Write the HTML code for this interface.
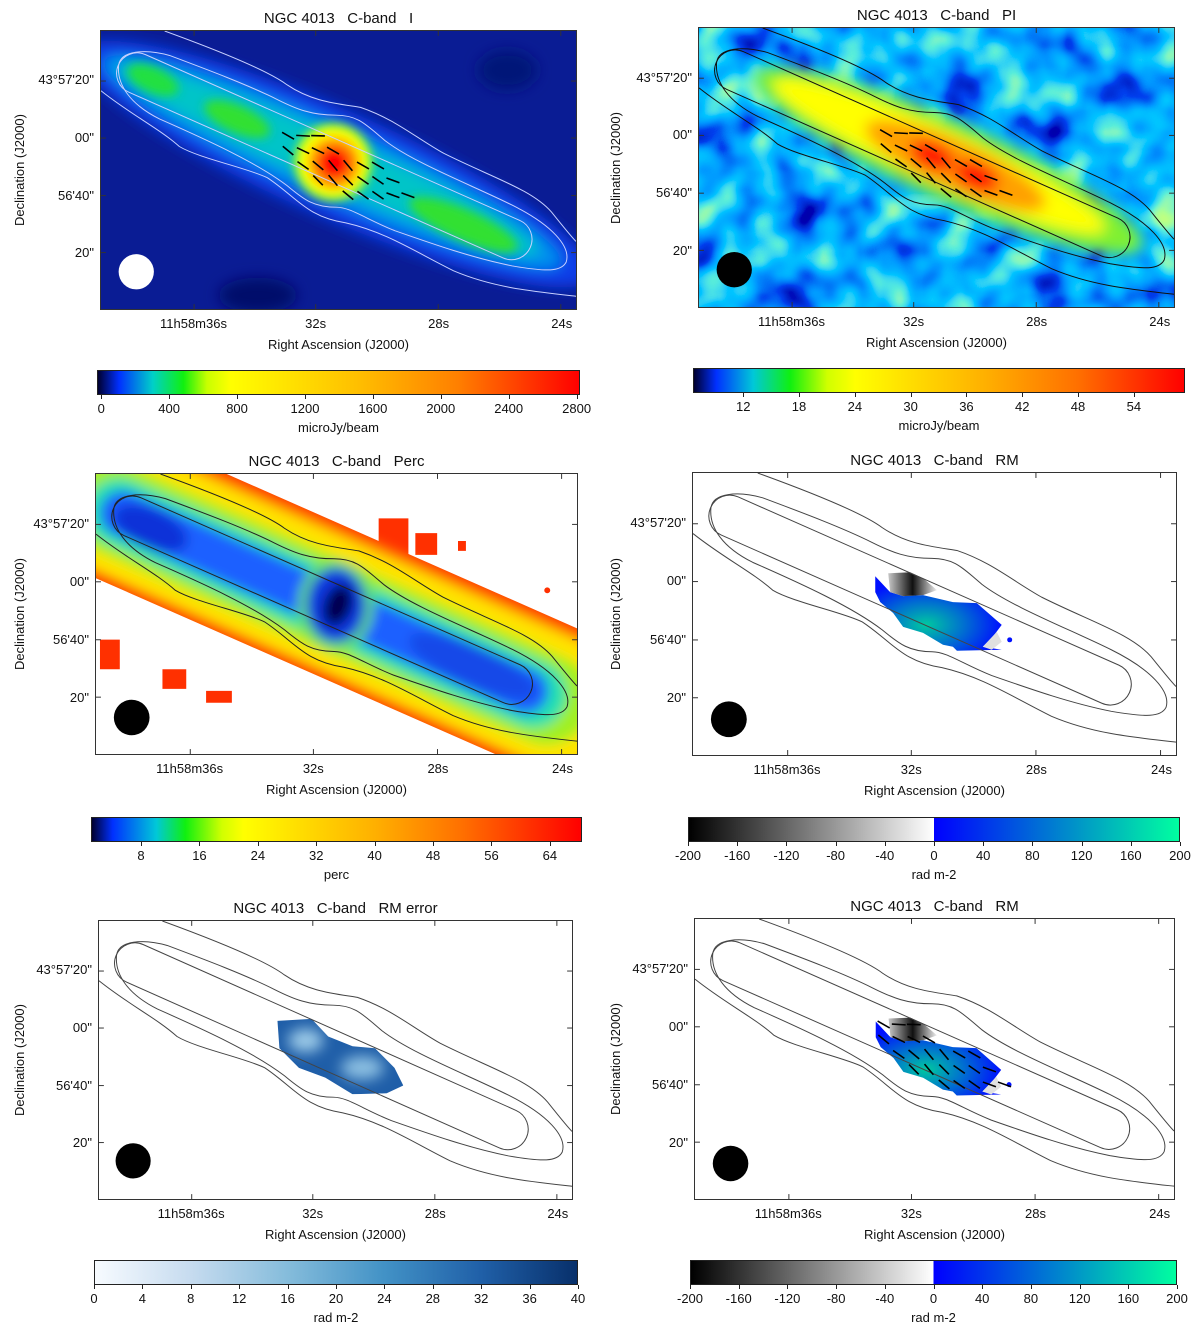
<!DOCTYPE html>
<html><head><meta charset="utf-8">
<style>
body{margin:0;background:#fff;width:1200px;height:1333px;position:relative;overflow:hidden;font-family:"Liberation Sans",Arial,sans-serif;color:#111}
.t{position:absolute;white-space:nowrap;font-size:13px;line-height:14px}
.ttl{position:absolute;white-space:pre;font-size:15px;line-height:16px;transform:translateX(-50%)}
.frame{position:absolute;border:1px solid #333;box-sizing:border-box;overflow:hidden}
.cb{position:absolute;border:1px solid #222;box-sizing:border-box}
svg{display:block}
</style></head><body>
<script>
// ---------- data arrays ----------
const yTickLabels = ["43°57'20\"", "00\"", "56'40\"", "20\""];
const xTickLabels = ["11h58m36s", "32s", "28s", "24s"];
const xTickFrac = [0.196, 0.452, 0.71, 0.968];
const yTickFrac = [0.18, 0.385, 0.592, 0.797];
// polarization vectors: grid column, grid row, angle (deg, below horizontal)
const vecCol = [0,1,2, 0,1,2,3, 1,2,3,4,5,6, 2,3,4,5,6,7, 4,5,6,7,8];
const vecRow = [0,0,0, 1,1,1,1, 2,2,2,2,2,2, 3,3,3,3,3,3, 4,4,4,4,4];
const vecAng = [30,3,2, 40,25,25,30, 35,40,50,50,30,30, 45,50,45,35,35,20, 40,35,35,20,20];
// colorbar ticks
const cb1Ticks = [0,400,800,1200,1600,2000,2400,2800];
const cb2Ticks = [12,18,24,30,36,42,48,54];
const cb3Ticks = [8,16,24,32,40,48,56,64];
const cbRMTicks = [-200,-160,-120,-80,-40,0,40,80,120,160,200];
const cb5Ticks = [0,4,8,12,16,20,24,28,32,36,40];

const panels = [
 {x:100,y:30,w:477,h:280,title:"NGC 4013   C-band   I",kind:"I"},
 {x:698,y:27,w:477,h:281,title:"NGC 4013   C-band   PI",kind:"PI"},
 {x:95,y:473,w:483,h:282,title:"NGC 4013   C-band   Perc",kind:"Perc"},
 {x:692,y:472,w:485,h:284,title:"NGC 4013   C-band   RM",kind:"RM"},
 {x:98,y:920,w:475,h:280,title:"NGC 4013   C-band   RM error",kind:"RMerr"},
 {x:694,y:918,w:481,h:282,title:"NGC 4013   C-band   RM",kind:"RMv"}
];
const cbars = [
 {x:97,y:370,w:483,h:25,min:-25,max:2820,ticks:cb1Ticks,label:"microJy/beam",
  stops:[[-25,"#000030"],[100,"#0030ff"],[300,"#00d0c8"],[480,"#10f010"],[620,"#c8ff00"],[760,"#ffff00"],[1500,"#ffc000"],[2100,"#ff8000"],[2820,"#ff0000"]]},
 {x:693,y:368,w:492,h:25,min:6.6,max:59.5,ticks:cb2Ticks,label:"microJy/beam",
  stops:[[6.6,"#000030"],[9,"#0030ff"],[13,"#00c8d8"],[17,"#10f010"],[21,"#d0ff00"],[24,"#ffff00"],[38,"#ffb000"],[48,"#ff7000"],[59.5,"#ff0000"]]},
 {x:91,y:817,w:491,h:25,min:1.15,max:68.4,ticks:cb3Ticks,label:"perc",
  stops:[[1.15,"#000030"],[4,"#0030ff"],[10,"#00c8d8"],[14,"#10f010"],[19,"#d0ff00"],[22,"#ffff00"],[40,"#ffb000"],[52,"#ff7000"],[68.4,"#ff0000"]]},
 {x:688,y:817,w:492,h:25,min:-200,max:200,ticks:cbRMTicks,label:"rad m-2",
  stops:[[-200,"#000000"],[-0.01,"#ffffff"],[0,"#0000ff"],[200,"#00ffa0"]]},
 {x:94,y:1260,w:484,h:25,min:0,max:40,ticks:cb5Ticks,label:"rad m-2",
  stops:[[0,"#f7fbff"],[8,"#c6dbef"],[16,"#85bcdb"],[24,"#4292c6"],[32,"#2060a8"],[40,"#08306b"]]},
 {x:690,y:1260,w:487,h:25,min:-200,max:200,ticks:cbRMTicks,label:"rad m-2",
  stops:[[-200,"#000000"],[-0.01,"#ffffff"],[0,"#0000ff"],[200,"#00ffa0"]]}
];
</script>
<script>
const VW=485, VH=284, ANG=23.9;
function txt(cls,s,x,y,extra){const d=document.createElement('div');d.className=cls;d.textContent=s;d.style.left=x+'px';d.style.top=y+'px';if(extra)d.style.cssText+=extra;document.body.appendChild(d);return d;}
function rot(cx,cy){return `rotate(${ANG} ${cx} ${cy})`;}
function stad(cx,cy,w,h,fill){return `<rect x="${cx-w/2}" y="${cy-h/2}" width="${w}" height="${h}" rx="${h/2}" fill="${fill}" transform="${rot(cx,cy)}"/>`;}
function ell(cx,cy,rx,ry,fill){return `<ellipse cx="${cx}" cy="${cy}" rx="${rx}" ry="${ry}" fill="${fill}" transform="${rot(cx,cy)}"/>`;}
function contours(col){
  return `<g fill="none" stroke="${col}" stroke-width="1">
   <rect x="${228-230}" y="${128-21}" width="460" height="42" rx="21" transform="${rot(228,128)}"/>
   <path d="M18,35 C20,20 45,18 70,25 C110,40 150,55 180,70 C200,80 215,86 240,86 C262,86 270,95 290,112 C320,135 380,158 420,178 C460,198 480,220 475,236 C470,246 455,246 420,240 C380,232 340,218 300,204 C270,192 255,180 240,180 C215,180 205,170 190,158 C160,135 110,112 60,90 C30,75 16,55 18,35 Z"/>
   <path d="M65,0 C120,20 170,40 190,55 C215,72 240,74 265,78 C300,90 320,108 350,125 C400,150 440,162 460,185 C472,200 480,210 485,215"/>
   <path d="M0,61 C30,85 60,100 80,118 C100,130 150,140 170,150 C200,170 210,190 250,196 C290,205 320,225 360,245 C400,262 440,266 485,271"/>
  </g>`;
}
function vectors(){
  let s='<g stroke="#000" stroke-width="1.6">';
  for(let i=0;i<vecCol.length;i++){
    const x=191+vecCol[i]*15.3, y=107+vecRow[i]*15.2, a=vecAng[i]*Math.PI/180, L=7;
    s+=`<line x1="${(x-L*Math.cos(a)).toFixed(1)}" y1="${(y-L*Math.sin(a)).toFixed(1)}" x2="${(x+L*Math.cos(a)).toFixed(1)}" y2="${(y+L*Math.sin(a)).toFixed(1)}"/>`;
  }
  return s+'</g>';
}
const rmPoly="183,104 198,120 211,124 231,123 261,130 285,131 301,145 310,153 301,165 291,175 310,178 265,179 261,175 251,173 231,161 211,155 201,141 188,130 183,120";
const rmBlack="196,101 218,100 231,106 245,118 231,123 211,124 198,120";
function rmPatch(id){
  return `<defs><radialGradient id="rg${id}" cx="0.4" cy="0.65" r="0.6"><stop offset="0" stop-color="#00c8a0"/><stop offset="0.5" stop-color="#0070d0"/><stop offset="1" stop-color="#0010ff"/></radialGradient>
  <linearGradient id="lg${id}" x1="0" x2="1"><stop offset="0" stop-color="#c8c8c8"/><stop offset="0.5" stop-color="#101010"/><stop offset="1" stop-color="#f0f0f0"/></linearGradient></defs>
  <polygon points="${rmPoly}" fill="url(#rg${id})"/><polygon points="${rmBlack}" fill="url(#lg${id})"/>
  <polygon points="291,175 305,160 310,170 300,178" fill="#e0e0e0"/><circle cx="318" cy="168" r="2.5" fill="#0010ff"/>`;
}
function content(k,i){
  let s='';
  if(k==="I"){
    s+=`<defs><filter id="b1" x="-50%" y="-50%" width="200%" height="200%"><feGaussianBlur stdDeviation="7"/></filter><filter id="b2" x="-50%" y="-50%" width="200%" height="200%"><feGaussianBlur stdDeviation="5"/></filter></defs>
    <rect width="${VW}" height="${VH}" fill="#0a1c94"/>
    <ellipse cx="415" cy="40" rx="30" ry="20" fill="#061478" filter="url(#b1)"/><ellipse cx="160" cy="270" rx="40" ry="18" fill="#04106a" filter="url(#b1)"/>
    <g filter="url(#b1)">${ell(240,136,285,55,"#0c3ce8")}${ell(236,134,255,38,"#0090ee")}${ell(232,131,235,26,"#00c4c8")}</g>
    <g filter="url(#b2)">${ell(53,50,28,13,"#20e040")}${ell(139,90,36,14,"#30e030")}${ell(370,198,60,16,"#30e030")}</g>
    <g filter="url(#b2)"><circle cx="237" cy="134" r="40" fill="#80ff20"/><circle cx="237" cy="134" r="35" fill="#ffff00"/><circle cx="238" cy="135" r="26" fill="#ff9000"/><circle cx="238" cy="135" r="16" fill="#ff0000"/></g>
    ${contours("#c8d0ff")}${vectors()}<circle cx="36" cy="246" r="18" fill="#fff"/>`;
  } else if(k==="PI"){
    s+=`<defs><filter id="tb" x="0" y="0" width="100%" height="100%"><feTurbulence type="fractalNoise" baseFrequency="0.024" numOctaves="2" seed="11"/>
    <feColorMatrix type="matrix" values="1 0 0 0 0  1 0 0 0 0  1 0 0 0 0  0 0 0 0 1"/>
    <feComponentTransfer><feFuncR type="table" tableValues="0 0 0 0 0 0.1 0.4 0.7"/><feFuncG type="table" tableValues="0 0 0.05 0.3 0.55 0.85 1 1"/><feFuncB type="table" tableValues="0.25 0.45 0.85 1 1 0.7 0.3 0.1"/></feComponentTransfer></filter>
    <filter id="b3" x="-50%" y="-50%" width="200%" height="200%"><feGaussianBlur stdDeviation="7"/></filter></defs>
    <rect width="${VW}" height="${VH}" fill="#1870ff"/><rect width="${VW}" height="${VH}" filter="url(#tb)"/>
    <g filter="url(#b3)">${ell(255,135,215,40,"#80f030")}${ell(245,130,185,28,"#ffff00")}${ell(262,140,100,25,"#ffa000")}${ell(238,130,24,14,"#ff1000")}${ell(283,151,24,14,"#ff1000")}</g>
    ${contours("#111")}${vectors()}<circle cx="36" cy="246" r="18" fill="#000"/>`;
  } else if(k==="Perc"){
    s+=`<defs><clipPath id="pc"><rect x="${240-330}" y="${130-75}" width="660" height="150" transform="${rot(240,130)}"/><rect x="285" y="45" width="30" height="45"/><rect x="322" y="60" width="22" height="22"/><rect x="4" y="168" width="20" height="30"/><rect x="67" y="198" width="24" height="20"/><rect x="111" y="220" width="26" height="12"/><rect x="365" y="68" width="8" height="10"/><circle cx="455" cy="118" r="3"/></clipPath>
    <filter id="b4" x="-50%" y="-50%" width="200%" height="200%"><feGaussianBlur stdDeviation="6"/></filter></defs>
    <rect width="${VW}" height="${VH}" fill="#fff"/>
    <g clip-path="url(#pc)"><rect width="${VW}" height="${VH}" fill="#ff3000"/>
    <g filter="url(#b4)">${stad(240,131,660,145,"#ffa000")}${stad(238,131,620,128,"#ffe400")}${stad(236,132,570,92,"#a0f020")}${stad(232,131,525,68,"#20e0b0")}${stad(230,130,490,46,"#1a60ff")}
    ${ell(55,55,40,20,"#0c30d8")}${ell(380,195,70,20,"#1448e8")}
    <ellipse cx="242" cy="133" rx="38" ry="46" fill="#60e060"/><ellipse cx="242" cy="133" rx="30" ry="38" fill="#1038e0"/><ellipse cx="244" cy="133" rx="14" ry="22" fill="#000050" transform="rotate(20 244 133)"/></g></g>
    ${contours("#222")}<circle cx="36" cy="247" r="18" fill="#000"/>`;
  } else if(k==="RM"||k==="RMv"){
    s+=`<rect width="${VW}" height="${VH}" fill="#fff"/>${rmPatch(i)}${contours("#444")}${k==="RMv"?vectors():''}<circle cx="36" cy="248" r="18" fill="#000"/>`;
  } else if(k==="RMerr"){
    s+=`<defs><filter id="b5" x="-50%" y="-50%" width="200%" height="200%"><feGaussianBlur stdDeviation="7"/></filter><clipPath id="ec"><polygon points="183,102 218,100 235,118 260,128 283,130 303,150 312,168 295,176 260,177 232,160 205,150 185,130"/></clipPath></defs>
    <rect width="${VW}" height="${VH}" fill="#fff"/><g clip-path="url(#ec)"><rect width="${VW}" height="${VH}" fill="#1f5ea8"/><g filter="url(#b5)"><ellipse cx="212" cy="122" rx="18" ry="12" fill="#9ccbe8"/><ellipse cx="270" cy="150" rx="22" ry="12" fill="#8cc0e2"/></g></g>
    ${contours("#444")}<circle cx="35" cy="245" r="18" fill="#000"/>`;
  }
  return s;
}
panels.forEach((p,i)=>{
  const f=document.createElement('div');f.className='frame';
  
  
  f.style.cssText+=`left:${p.x}px;top:${p.y}px;width:${p.w}px;height:${p.h}px`;
  let ticks='';
  xTickFrac.forEach(fx=>{const x=fx*VW;ticks+=`<line x1="${x}" y1="0" x2="${x}" y2="5" stroke="#333"/><line x1="${x}" y1="${VH}" x2="${x}" y2="${VH-5}" stroke="#333"/>`;});
  yTickFrac.forEach(fy=>{const y=fy*VH;ticks+=`<line x1="0" y1="${y}" x2="5" y2="${y}" stroke="#333"/><line x1="${VW}" y1="${y}" x2="${VW-5}" y2="${y}" stroke="#333"/>`;});
  f.innerHTML=`<svg width="${p.w-2}" height="${p.h-2}" viewBox="0 0 ${VW} ${VH}" preserveAspectRatio="none">${content(p.kind,i)}${ticks}</svg>`;
  document.body.appendChild(f);
  const t=txt('ttl',p.title,p.x+p.w/2,p.y-19);
  
  
  xTickLabels.forEach((s,j)=>{const d=txt('t',s,p.x+xTickFrac[j]*p.w,p.y+p.h+7,'transform:translateX(-50%)');
    
    });
  yTickLabels.forEach((s,j)=>{const d=txt('t',s,p.x-6,p.y+yTickFrac[j]*p.h-7,'transform:translateX(-100%)');
    
    });
  const xl=txt('t',"Right Ascension (J2000)",p.x+p.w/2,p.y+p.h+28,'transform:translateX(-50%)');
  
  
  const yl=txt('t',"Declination (J2000)",(p.x<400?20:616),p.y+p.h/2,'transform:translate(-50%,-50%) rotate(-90deg)');
  
  
});
cbars.forEach((c,i)=>{
  const d=document.createElement('div');d.className='cb';
  
  
  const pos=v=>(v-c.min)/(c.max-c.min);
  const g=c.stops.map(s=>`${s[1]} ${(pos(s[0])*100).toFixed(2)}%`).join(',');
  d.style.cssText+=`left:${c.x}px;top:${c.y}px;width:${c.w}px;height:${c.h}px;background:linear-gradient(to right,${g})`;
  document.body.appendChild(d);
  c.ticks.forEach(v=>{
    const x=c.x+pos(v)*c.w;
    const tk=document.createElement('div');tk.style.cssText=`position:absolute;left:${x}px;top:${c.y+c.h}px;width:1px;height:4px;background:#222`;document.body.appendChild(tk);
    const l=txt('t',String(v),x,c.y+c.h+7,'transform:translateX(-50%)');
    
    
  });
  const lb=txt('t',c.label,c.x+c.w/2,c.y+c.h+26,'transform:translateX(-50%)');
  
  
});
</script>
</body></html>
